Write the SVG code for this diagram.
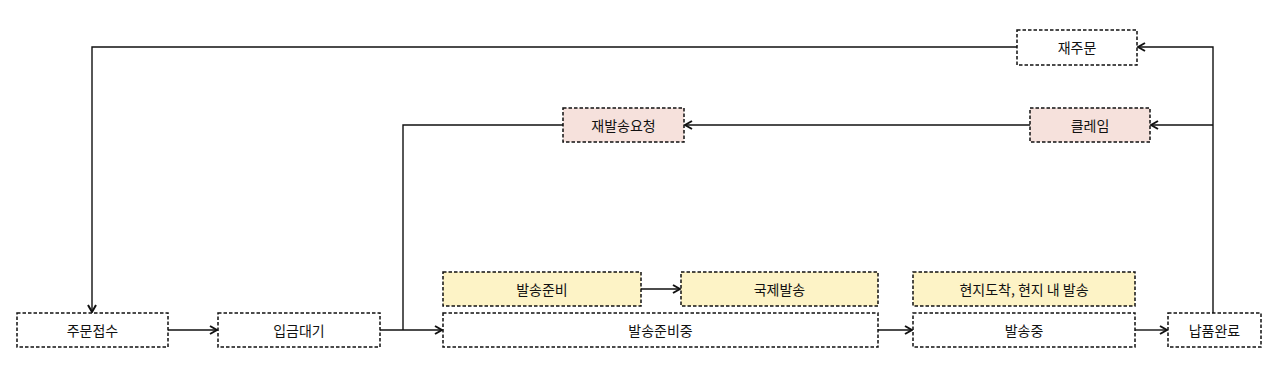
<svg xmlns="http://www.w3.org/2000/svg" width="1280" height="377" viewBox="0 0 1280 377">
<style>
.n{stroke:#111;stroke-width:1.5;stroke-dasharray:3.5 2;fill:#fff}
.y{fill:#fdf3c6}
.p{fill:#f6e1dc}
.t{font-family:"Noto Sans CJK KR","Noto Sans",sans-serif;font-size:14px;fill:#111;text-anchor:middle;dominant-baseline:central}
.c{fill:none;stroke:#111;stroke-width:1.4}
</style>
<defs>
<marker id="a" viewBox="0 0 10 10" refX="9" refY="5" markerWidth="10" markerHeight="10" markerUnits="userSpaceOnUse" orient="auto">
<path d="M2,1 L9,5 L2,9" fill="none" stroke="#111" stroke-width="2"/>
</marker>
</defs>
<rect width="1280" height="377" fill="#fff"/>
<g id="connectors">
<path class="c" d="M168,330 H217" marker-end="url(#a)"/>
<path class="c" d="M380,330 H442" marker-end="url(#a)"/>
<path class="c" d="M641,289 H680" marker-end="url(#a)"/>
<path class="c" d="M878,330 H912" marker-end="url(#a)"/>
<path class="c" d="M1135,330 H1167" marker-end="url(#a)"/>
<path class="c" d="M1213,313 V47 H1138" marker-end="url(#a)"/>
<path class="c" d="M1213,125 H1151" marker-end="url(#a)"/>
<path class="c" d="M1030,125 H685" marker-end="url(#a)"/>
<path class="c" d="M563,125 H403 V330"/>
<path class="c" d="M1017,47 H92 V312" marker-end="url(#a)"/>
</g>
<g id="n1"><rect class="n" x="17" y="313" width="151" height="34"/><text class="t" x="92.5" y="330">주문접수</text></g>
<g id="n2"><rect class="n" x="218" y="313" width="162" height="34"/><text class="t" x="299" y="330">입금대기</text></g>
<g id="n3"><rect class="n" x="443" y="313" width="435" height="34"/><text class="t" x="660.5" y="330">발송준비중</text></g>
<g id="n4"><rect class="n y" x="443" y="272" width="198" height="34"/><text class="t" x="542" y="289">발송준비</text></g>
<g id="n5"><rect class="n y" x="681" y="272" width="197" height="34"/><text class="t" x="779.5" y="289">국제발송</text></g>
<g id="n6"><rect class="n" x="913" y="313" width="222" height="34"/><text class="t" x="1024" y="330">발송중</text></g>
<g id="n7"><rect class="n y" x="913" y="272" width="222" height="34"/><text class="t" x="1024" y="289">현지도착, 현지 내 발송</text></g>
<g id="n8"><rect class="n" x="1168" y="313" width="93" height="34"/><text class="t" x="1214.5" y="330">납품완료</text></g>
<g id="n9"><rect class="n" x="1017" y="30" width="120" height="35"/><text class="t" x="1077" y="47">재주문</text></g>
<g id="n10"><rect class="n p" x="1030" y="108" width="120" height="34"/><text class="t" x="1090" y="125">클레임</text></g>
<g id="n11"><rect class="n p" x="563" y="108" width="121" height="34"/><text class="t" x="623.5" y="125">재발송요청</text></g>
</svg>
